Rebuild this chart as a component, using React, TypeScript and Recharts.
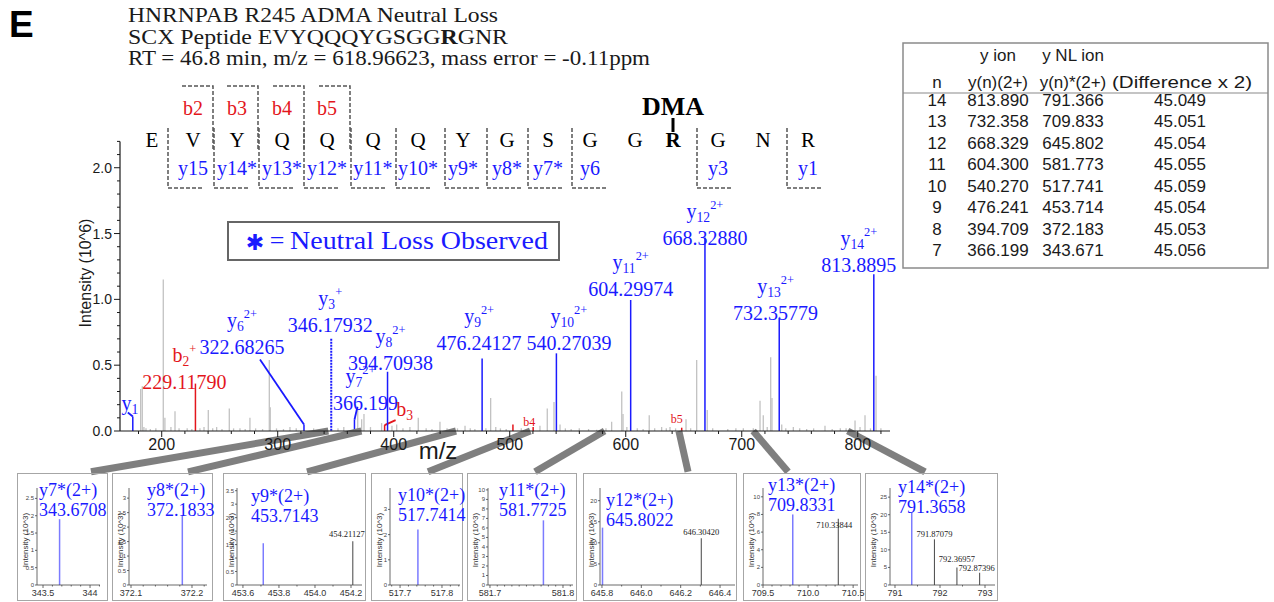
import { ComposedChart, Bar, XAxis, YAxis, ReferenceLine } from 'recharts'

const SERIF = '"Liberation Serif", "Times New Roman", serif'
const SANS = '"Liberation Sans", Arial, Helvetica, sans-serif'
const BLUE = '#1a1aff'
const RED = '#e3161c'
const INK = '#1a1a1a'

// unassigned peaks of the main spectrum: m/z and intensity (10^6)
const peakMz = [
  181.9, 183.3, 184.7, 186.5, 190.2, 195.0, 201.4, 202.8, 208.0, 211.5,
  215.0, 222.0, 226.0, 233.0, 236.5, 240.2, 244.0, 247.4, 252.0, 258.3,
  262.0, 267.5, 272.0, 276.1, 281.0, 287.0, 292.8, 293.6, 299.0, 305.0,
  310.6, 316.0, 331.0, 338.0, 352.0, 357.0, 369.0, 372.4, 374.4, 380.0,
  389.6, 398.5, 402.6, 408.0, 414.0, 421.2, 428.0, 433.0, 439.9, 446.0,
  452.0, 455.0, 461.5, 466.0, 470.0, 479.5, 483.6, 488.0, 492.0, 497.0,
  510.0, 515.0, 526.1, 532.4, 538.2, 543.4, 548.0, 553.0, 560.0, 568.0,
  575.0, 583.0, 587.9, 596.6, 597.7, 601.0, 610.0, 615.0, 620.3, 625.0,
  631.0, 635.0, 638.2, 643.0, 652.0, 656.0, 661.2, 670.3, 675.0, 688.0,
  695.0, 701.4, 710.0, 715.8, 718.6, 722.0, 725.0, 726.1, 734.5, 738.0,
  744.5, 750.0, 756.0, 762.0, 771.8, 778.0, 785.0, 790.0, 797.7, 802.0,
  806.3, 811.0, 815.8, 820.0,
]
const peakIntensity = [
  0.32, 0.34, 0.03, 0.02, 0.015, 0.02, 1.15, 0.1, 0.03, 0.15,
  0.02, 0.02, 0.015, 0.02, 0.03, 0.16, 0.02, 0.03, 0.015, 0.17,
  0.02, 0.02, 0.015, 0.1, 0.02, 0.015, 0.54, 0.18, 0.02, 0.015,
  0.03, 0.02, 0.02, 0.015, 0.02, 0.03, 0.18, 0.09, 0.13, 0.03,
  0.06, 0.04, 0.05, 0.02, 0.03, 0.1, 0.02, 0.015, 0.07, 0.02,
  0.015, 0.02, 0.04, 0.02, 0.015, 0.02, 0.25, 0.03, 0.02, 0.015,
  0.02, 0.015, 0.04, 0.17, 0.22, 0.05, 0.02, 0.015, 0.02, 0.015,
  0.01, 0.02, 0.07, 0.3, 0.13, 0.03, 0.02, 0.015, 0.12, 0.02,
  0.03, 0.02, 0.03, 0.02, 0.09, 0.02, 0.54, 0.16, 0.02, 0.015,
  0.02, 0.02, 0.02, 0.23, 0.12, 0.03, 0.56, 0.25, 0.05, 0.02,
  0.03, 0.02, 0.015, 0.02, 0.04, 0.015, 0.02, 0.02, 0.08, 0.03,
  0.12, 0.02, 0.42, 0.02,
]

// assigned fragment ions
const ionKeys = ['y1', 'b2', 'y6', 'y3', 'y7', 'b3', 'y8', 'y9', 'y10', 'y11', 'y12', 'y13', 'y14', 'b4x', 'b4', 'b5']
const ionCharge = ['', '+', '2+', '+', '2+', '', '2+', '2+', '2+', '2+', '2+', '2+', '2+', '', '', '']
const ionMz = [175.119, 229.1179, 322.68265, 346.17932, 366.199, 392.18, 394.70938, 476.24127, 540.27039, 604.29974, 668.3288, 732.35779, 813.8895, 502.8, 520.23, 648.29]
const ionIntensity = [0.11, 0.36, 0.05, 0.7, 0.085, 0.045, 0.45, 0.55, 0.59, 0.995, 1.47, 0.86, 1.19, 0.05, 0.03, 0.025]
const ionMassLabel = ['', '229.11790', '322.68265', '346.17932', '366.199', '', '394.70938', '476.24127', '540.27039', '604.29974', '668.32880', '732.35779', '813.8895', '', '', '']

// label placement relative to the peak top
const ionLayout: Record<string, { dx: number; dy: number; ionDx?: number; lead?: [number, number]; small?: boolean; hide?: boolean }> = {
  y1: { dx: -3, dy: -7, lead: [-5, -4] },
  b2: { dx: -11, dy: 5.5 },
  y6: { dx: -62, dy: -70, lead: [-44, -65] },
  y3: { dx: -1, dy: -7 },
  y7: { dx: 11, dy: -10, ionDx: -5, lead: [3, -13] },
  b3: { dx: 20, dy: -9, lead: [11, -5] },
  y8: { dx: 3, dy: -2 },
  y9: { dx: -3, dy: -8.5 },
  y10: { dx: 12.5, dy: -3.3 },
  y11: { dx: 0, dy: -4 },
  y12: { dx: 0, dy: 7.5 },
  y13: { dx: -3.7, dy: 2 },
  y14: { dx: -15, dy: -2.3 },
  b4x: { dx: 0, dy: 0, hide: true },
  b4: { dx: -4, dy: -1, small: true },
  b5: { dx: -5, dy: -5, small: true },
}

const mainXMajor = [200, 300, 400, 500, 600, 700, 800]
const mainXTicks = Array.from({ length: 33 }, (_, i) => 180 + i * 20)
const mainYTicks = Array.from({ length: 23 }, (_, i) => i / 10)

// peptide annotation
const residues = ['E', 'V', 'Y', 'Q', 'Q', 'Q', 'Q', 'Y', 'G', 'S', 'G', 'G', 'R', 'G', 'N', 'R']
const residueX = [152, 193, 237, 282, 327, 373, 418, 463, 507, 548, 590, 635, 673, 718, 763, 808]
const yFragments = ['y15', 'y14*', 'y13*', 'y12*', 'y11*', 'y10*', 'y9*', 'y8*', 'y7*', 'y6', 'y3', 'y1']
const yFragmentResidue = [1, 2, 3, 4, 5, 6, 7, 8, 9, 10, 13, 15]
const yFragmentCut = [168, 214, 259, 304, 351, 396, 445, 487, 528, 572, 697, 787]
const bFragments = ['b2', 'b3', 'b4', 'b5']
const bFragmentCut = [213, 258, 304, 350]

// neutral loss insets: m/z and intensity (10^3)
const nlName = ['y7*(2+)', 'y8*(2+)', 'y9*(2+)', 'y10*(2+)', 'y11*(2+)', 'y12*(2+)', 'y13*(2+)', 'y14*(2+)']
const nlMz = [343.6708, 372.1833, 453.7143, 517.7414, 581.7725, 645.8022, 709.8331, 791.3658]
const nlIntensity = [1.9, 2.41, 1.55, 2.2, 6.8, 13.6, 8.0, 20.6]
const isoMz = [[], [], [454.21127], [], [], [646.3042], [710.33844], [791.87079, 792.36957, 792.87396]]
const isoIntensity = [[], [], [1.62], [], [], [11.1], [7.5], [13.0, 5.0, 3.5]]
const insetXTicks = [[343.5, 344], [372.1, 372.2], [453.6, 453.8, 454.0, 454.2], [517.7, 517.8], [581.7, 581.8], [645.8, 646.0, 646.2, 646.4], [709.5, 710.0, 710.5], [791, 792, 793]]
const insetXTickLabels = [['343.5', '344'], ['372.1', '372.2'], ['453.6', '453.8', '454.0', '454.2'], ['517.7', '517.8'], ['581.7', '581.8'], ['645.8', '646.0', '646.2', '646.4'], ['709.5', '710.0', '710.5'], ['791', '792', '793']]
const insetYTicks = [[0, 0.5, 1, 1.5, 2, 2.5], [0, 0.5, 1, 1.5, 2, 2.5, 3], [0, 0.5, 1, 1.5, 2, 2.5, 3, 3.5], [0, 1, 2, 3], [0, 1, 2, 3, 4, 5, 6, 7, 8, 9, 10], [0, 5, 10, 15, 20], [0, 2, 4, 6, 8, 10], [0, 5, 10, 15, 20, 25]]

// inset layout
const insetLeft = [17, 112, 223, 371, 467, 583, 743, 865]
const insetWidth = [91, 101, 143, 92, 110, 154, 118, 133]
const insetAxisX = [37, 129, 237, 390, 488, 600, 763, 890]
const insetAxisEnd = [100, 207, 362, 460, 573, 735, 858, 995]
const insetXDomain = [[343.436, 344.106], [372.0967, 372.2246], [453.567, 454.261], [517.676, 517.843], [581.6973, 581.8137], [645.79, 646.476], [709.5, 710.554], [790.889, 793.222]]
const insetYMax = [2.8, 3.35, 3.6, 3.85, 10.2, 23, 11, 27.6]
const insetMinorStep = [0.1, 0.02, 0.1, 0.02, 0.01, 0.1, 0.1, 0.5]
const insetLabelX = [39, 147, 251, 398, 499, 606, 768, 898]
const insetLabelY = [496, 496, 502, 501, 496, 506, 491, 493]
const isoLabelShift = [[], [], [[-6, -4]], [], [], [[0, -3]], [[-4, 9]], [[0, -2], [0, -5], [-3, -2]]]
const calloutFootMz = [139.05, 222.7, 325.3, 429.6, 521.8, 653.7, 739.9, 858.0]

// table
const tableN = [14, 13, 12, 11, 10, 9, 8, 7]
const tableYIon = ['813.890', '732.358', '668.329', '604.300', '540.270', '476.241', '394.709', '366.199']
const tableNlIon = ['791.366', '709.833', '645.802', '581.773', '517.741', '453.714', '372.183', '343.671']
const tableDiff = ['45.049', '45.051', '45.054', '45.055', '45.059', '45.054', '45.053', '45.056']

function IonName({ x, y, name, charge, color, size }: { x: number; y: number; name: string; charge: string; color: string; size: number }) {
  const letter = name.slice(0, 1)
  const num = name.slice(1)
  return (
    <text x={x} y={y} textAnchor="middle" fill={color} fontFamily={SERIF} fontSize={size}>
      {letter}
      <tspan dy={4} fontSize={size * 0.68}>{num}</tspan>
      {charge && <tspan dy={-13} fontSize={size * 0.62}>{charge}</tspan>}
    </text>
  )
}

function MainPeak(props: any) {
  const { x, y, width, height, payload } = props
  if (x == null || y == null || !height) return null
  const cx = x + width / 2
  const key: string = payload.key
  if (!key) {
    return <line x1={cx} x2={cx} y1={y} y2={y + height} stroke="#c2c2c2" strokeWidth={1.3} />
  }
  const color = key.startsWith('b') ? RED : BLUE
  const lay = ionLayout[key]
  const dashed = key === 'y3'
  return (
    <g>
      <line x1={cx} x2={cx} y1={y} y2={y + height} stroke={color} strokeWidth={dashed ? 2 : 1.5} strokeDasharray={dashed ? '2 1' : undefined} />
      {lay.lead && <line x1={cx} y1={y} x2={cx + lay.lead[0]} y2={y + lay.lead[1]} stroke={color} strokeWidth={1.8} />}
      {!lay.hide && lay.small && (
        <text x={cx + lay.dx} y={y + lay.dy} textAnchor="middle" fill={color} fontFamily={SERIF} fontSize={12}>{key}</text>
      )}
      {!lay.hide && !lay.small && payload.mass && (
        <text x={cx + lay.dx} y={y + lay.dy} textAnchor="middle" fill={color} fontFamily={SERIF} fontSize={20}>{payload.mass}</text>
      )}
      {!lay.hide && !lay.small && (
        <IonName
          x={cx + lay.dx + (lay.ionDx ?? 0)}
          y={payload.mass ? y + lay.dy - 27 : y + lay.dy}
          name={key}
          charge={payload.charge}
          color={color}
          size={20}
        />
      )}
    </g>
  )
}

function MainXTick({ x, y, payload }: any) {
  const major = mainXMajor.includes(payload.value)
  return (
    <g>
      <line x1={x} x2={x} y1={y} y2={y + (major ? 6 : 3)} stroke={INK} strokeWidth={1} />
      {major && (
        <text x={x} y={y + 19} textAnchor="middle" fontFamily={SANS} fontSize={16} fill={INK}>{payload.value}</text>
      )}
    </g>
  )
}

function MainYTick({ x, y, payload }: any) {
  const tenth = Math.round(payload.value * 10)
  const major = tenth % 5 === 0
  return (
    <g>
      <line x1={x} x2={x - (major ? 6 : 3)} y1={y} y2={y} stroke={INK} strokeWidth={1} />
      {major && (
        <text x={x - 8} y={y + 5} textAnchor="end" fontFamily={SANS} fontSize={14} fill={INK}>{(tenth / 10).toFixed(1)}</text>
      )}
    </g>
  )
}

const mainRows = [
  ...peakMz.map((mz, i) => ({ mz, intensity: peakIntensity[i], key: '', charge: '', mass: '' })),
  ...ionMz.map((mz, i) => ({ mz, intensity: ionIntensity[i], key: ionKeys[i], charge: ionCharge[i], mass: ionMassLabel[i] })),
]

function MainSpectrum() {
  return (
    <div style={{ position: 'absolute', left: 0, top: 0 }}>
      <ComposedChart width={900} height={480} data={mainRows} margin={{ top: 141.4, right: 10, bottom: 19, left: 80 }}>
        <XAxis
          dataKey="mz"
          type="number"
          domain={[164.05, 827.8]}
          ticks={mainXTicks}
          interval={0}
          tick={(p: any) => <MainXTick {...p} />}
          tickLine={false}
          tickSize={0}
          tickMargin={0}
          height={30}
          axisLine={{ stroke: INK, strokeWidth: 1.2 }}
        />
        <YAxis
          type="number"
          domain={[0, 2.2]}
          ticks={mainYTicks}
          interval={0}
          tick={(p: any) => <MainYTick {...p} />}
          tickLine={false}
          tickSize={0}
          tickMargin={0}
          width={40}
          axisLine={{ stroke: INK, strokeWidth: 1.2 }}
        />
        <Bar dataKey="intensity" barSize={1} isAnimationActive={false} shape={(p: any) => <MainPeak {...p} />} />
        {nlMz.map((mz, i) => (
          <ReferenceLine
            key={i}
            segment={[{ x: mz, y: 0 }, { x: calloutFootMz[i], y: -0.31 }]}
            ifOverflow="visible"
            stroke="#7f7f7f"
            strokeWidth={7}
          />
        ))}
      </ComposedChart>
    </div>
  )
}

function InsetXTick({ x, y, payload, idx }: any) {
  const ticks = insetXTicks[idx]
  const k = ticks.findIndex((t) => Math.abs(t - payload.value) < 1e-6)
  const major = k >= 0
  return (
    <g>
      <line x1={x} x2={x} y1={y} y2={y + (major ? 3 : 1.5)} stroke="#444" strokeWidth={0.8} />
      {major && (
        <text x={x} y={y + 11} textAnchor="middle" fontFamily={SANS} fontSize={9} fill="#333">{insetXTickLabels[idx][k]}</text>
      )}
    </g>
  )
}

function InsetYTick({ x, y, payload }: any) {
  return (
    <g>
      <line x1={x} x2={x - 2} y1={y} y2={y} stroke="#444" strokeWidth={0.8} />
      <text x={x - 3} y={y + 2} textAnchor="end" fontFamily={SANS} fontSize={6} fill="#444">{String(payload.value)}</text>
    </g>
  )
}

function InsetPeak(props: any) {
  const { x, y, width, height, payload } = props
  if (x == null || y == null || !height) return null
  const cx = x + width / 2
  if (!payload.iso) {
    return <line x1={cx} x2={cx} y1={y} y2={y + height} stroke="#7b7bff" strokeWidth={1.5} />
  }
  const [sx, sy] = payload.shift
  return (
    <g>
      <line x1={cx} x2={cx} y1={y} y2={y + height} stroke="#555" strokeWidth={1.1} />
      <text x={cx + sx} y={y + sy} textAnchor="middle" fontFamily={SERIF} fontSize={8.5} fill="#222">{payload.mz.toFixed(5)}</text>
    </g>
  )
}

function Inset({ idx }: { idx: number }) {
  const left = insetLeft[idx]
  const width = insetWidth[idx]
  const top = 473
  const height = 128
  const rows = [
    { mz: nlMz[idx], intensity: nlIntensity[idx], iso: false, shift: [0, 0] },
    ...isoMz[idx].map((mz, j) => ({ mz, intensity: isoIntensity[idx][j], iso: true, shift: isoLabelShift[idx][j] })),
  ]
  const [d0, d1] = insetXDomain[idx]
  const step = insetMinorStep[idx]
  const first = Math.ceil(d0 / step - 1e-6)
  const last = Math.floor(d1 / step + 1e-6)
  const xTicks = Array.from({ length: last - first + 1 }, (_, k) => Number(((first + k) * step).toFixed(4)))
  return (
    <div style={{ position: 'absolute', left, top, width, height }}>
      <div style={{ position: 'absolute', inset: 0, border: '1.5px solid #a6a6a6', boxSizing: 'border-box' }} />
      <div style={{ position: 'absolute', left: 0, top: 0 }}>
        <ComposedChart
          width={width}
          height={height}
          data={rows}
          margin={{ top: 15, right: width - (insetAxisEnd[idx] - left), bottom: 0, left: 0 }}
        >
          <XAxis
            dataKey="mz"
            type="number"
            domain={[d0, d1]}
            ticks={xTicks}
            interval={0}
            tick={(p: any) => <InsetXTick {...p} idx={idx} />}
            tickLine={false}
            tickSize={0}
            tickMargin={0}
            height={16}
            axisLine={{ stroke: '#444', strokeWidth: 0.8 }}
          />
          <YAxis
            type="number"
            domain={[0, insetYMax[idx]]}
            ticks={insetYTicks[idx]}
            interval={0}
            tick={(p: any) => <InsetYTick {...p} />}
            tickLine={false}
            tickSize={0}
            tickMargin={0}
            width={insetAxisX[idx] - left}
            axisLine={{ stroke: '#444', strokeWidth: 0.8 }}
          />
          <Bar dataKey="intensity" barSize={1} isAnimationActive={false} shape={(p: any) => <InsetPeak {...p} />} />
        </ComposedChart>
      </div>
      <svg width={width} height={height} style={{ position: 'absolute', left: 0, top: 0, pointerEvents: 'none', overflow: 'visible' }}>
        <text
          transform={`translate(${8}, ${67}) rotate(-90)`}
          textAnchor="middle"
          dy={3}
          fontFamily={SANS}
          fontSize={8}
          fill="#333"
        >
          Intensity (10^3)
        </text>
        <text x={insetLabelX[idx] - left} y={insetLabelY[idx] - top} fontFamily={SERIF} fontSize={18} fill={BLUE}>{nlName[idx]}</text>
        <text x={insetLabelX[idx] - left} y={insetLabelY[idx] - top + 20} fontFamily={SERIF} fontSize={18} fill={BLUE}>{nlMz[idx].toFixed(4)}</text>
      </svg>
    </div>
  )
}

function Annotations() {
  const dash = { stroke: '#555', strokeWidth: 1.5, strokeDasharray: '4 2', fill: 'none' }
  return (
    <svg width={1274} height={602} style={{ position: 'absolute', left: 0, top: 0, pointerEvents: 'none' }}>
      <text x={9} y={37} fontFamily={SANS} fontWeight="bold" fontSize={37} fill="#000">E</text>
      <text x={128} y={22} fontFamily={SERIF} fontSize={21} fill={INK} textLength={370} lengthAdjust="spacingAndGlyphs">
        HNRNPAB R245 ADMA Neutral Loss
      </text>
      <text x={128} y={43.5} fontFamily={SERIF} fontSize={21} fill={INK} textLength={380} lengthAdjust="spacingAndGlyphs">
        SCX Peptide EVYQQQYGSGG<tspan fontWeight="bold">R</tspan>GNR
      </text>
      <text x={128} y={65} fontFamily={SERIF} fontSize={21} fill={INK} textLength={522} lengthAdjust="spacingAndGlyphs">
        RT = 46.8 min, m/z = 618.96623, mass error = -0.11ppm
      </text>

      {bFragments.map((b, i) => (
        <g key={b}>
          <polyline points={`${bFragmentCut[i] - 31},86 ${bFragmentCut[i]},86 ${bFragmentCut[i]},150`} {...dash} />
          <text x={residueX[i + 1]} y={115} textAnchor="middle" fontFamily={SERIF} fontSize={20} fill={RED}>{b}</text>
        </g>
      ))}
      {yFragments.map((f, i) => (
        <g key={f}>
          <polyline points={`${yFragmentCut[i]},128 ${yFragmentCut[i]},188 ${yFragmentCut[i] + 35},188`} {...dash} />
          <text x={residueX[yFragmentResidue[i]]} y={175} textAnchor="middle" fontFamily={SERIF} fontSize={20} fill={BLUE}>{f}</text>
        </g>
      ))}
      {residues.map((r, i) => (
        <text key={i} x={residueX[i]} y={147} textAnchor="middle" fontFamily={SERIF} fontSize={21} fontWeight={i === 12 ? 'bold' : 'normal'} fill="#000">
          {r}
        </text>
      ))}
      <text x={673} y={115} textAnchor="middle" fontFamily={SERIF} fontWeight="bold" fontSize={26} fill="#000">DMA</text>
      <line x1={673} x2={673} y1={118} y2={132} stroke="#000" strokeWidth={3} />

      <rect x={228} y={222} width={331} height={38} fill="none" stroke="#666" strokeWidth={2} />
      <text x={255} y={250} textAnchor="middle" fontFamily='"DejaVu Sans", sans-serif' fontWeight="bold" fontSize={22} fill={BLUE}>✱</text>
      <text x={277} y={249} textAnchor="middle" fontFamily={SERIF} fontSize={26} fill={BLUE}>=</text>
      <text x={290} y={249} fontFamily={SERIF} fontSize={26} fill={BLUE} textLength={258} lengthAdjust="spacingAndGlyphs">Neutral Loss Observed</text>

      <text transform="translate(85, 273) rotate(-90)" textAnchor="middle" dy={5.5} fontFamily={SANS} fontSize={16} fill={INK}>
        Intensity (10^6)
      </text>
      <text x={438} y={459} textAnchor="middle" fontFamily={SANS} fontSize={24} fill={INK}>m/z</text>

      <rect x={903} y={43} width={365} height={225} fill="none" stroke="#8a8a8a" strokeWidth={1.5} />
      <line x1={903} x2={1268} y1={93} y2={93} stroke="#8a8a8a" strokeWidth={1.2} />
      <g fontFamily={SANS} fontSize={17} fill={INK} textAnchor="middle">
        <text x={998} y={61}>y ion</text>
        <text x={1073} y={61}>y NL ion</text>
        <text x={937} y={88}>n</text>
        <text x={998} y={88}>y(n)(2+)</text>
        <text x={1073} y={88}>y(n)*(2+)</text>
        <text x={1182} y={88} textLength={140} lengthAdjust="spacingAndGlyphs">(Difference x 2)</text>
        {tableN.map((n, i) => (
          <g key={n}>
            <text x={937} y={106 + i * 21.43}>{n}</text>
            <text x={998} y={106 + i * 21.43}>{tableYIon[i]}</text>
            <text x={1073} y={106 + i * 21.43}>{tableNlIon[i]}</text>
            <text x={1180} y={106 + i * 21.43}>{tableDiff[i]}</text>
          </g>
        ))}
      </g>
    </svg>
  )
}

export default function App() {
  return (
    <div style={{ position: 'absolute', left: 0, top: 0, width: 1274, height: 602, background: '#fff', overflow: 'hidden' }}>
      <style>{'.recharts-surface{overflow:visible}'}</style>
      <MainSpectrum />
      <Annotations />
      {nlMz.map((_, i) => (
        <Inset key={i} idx={i} />
      ))}
    </div>
  )
}
